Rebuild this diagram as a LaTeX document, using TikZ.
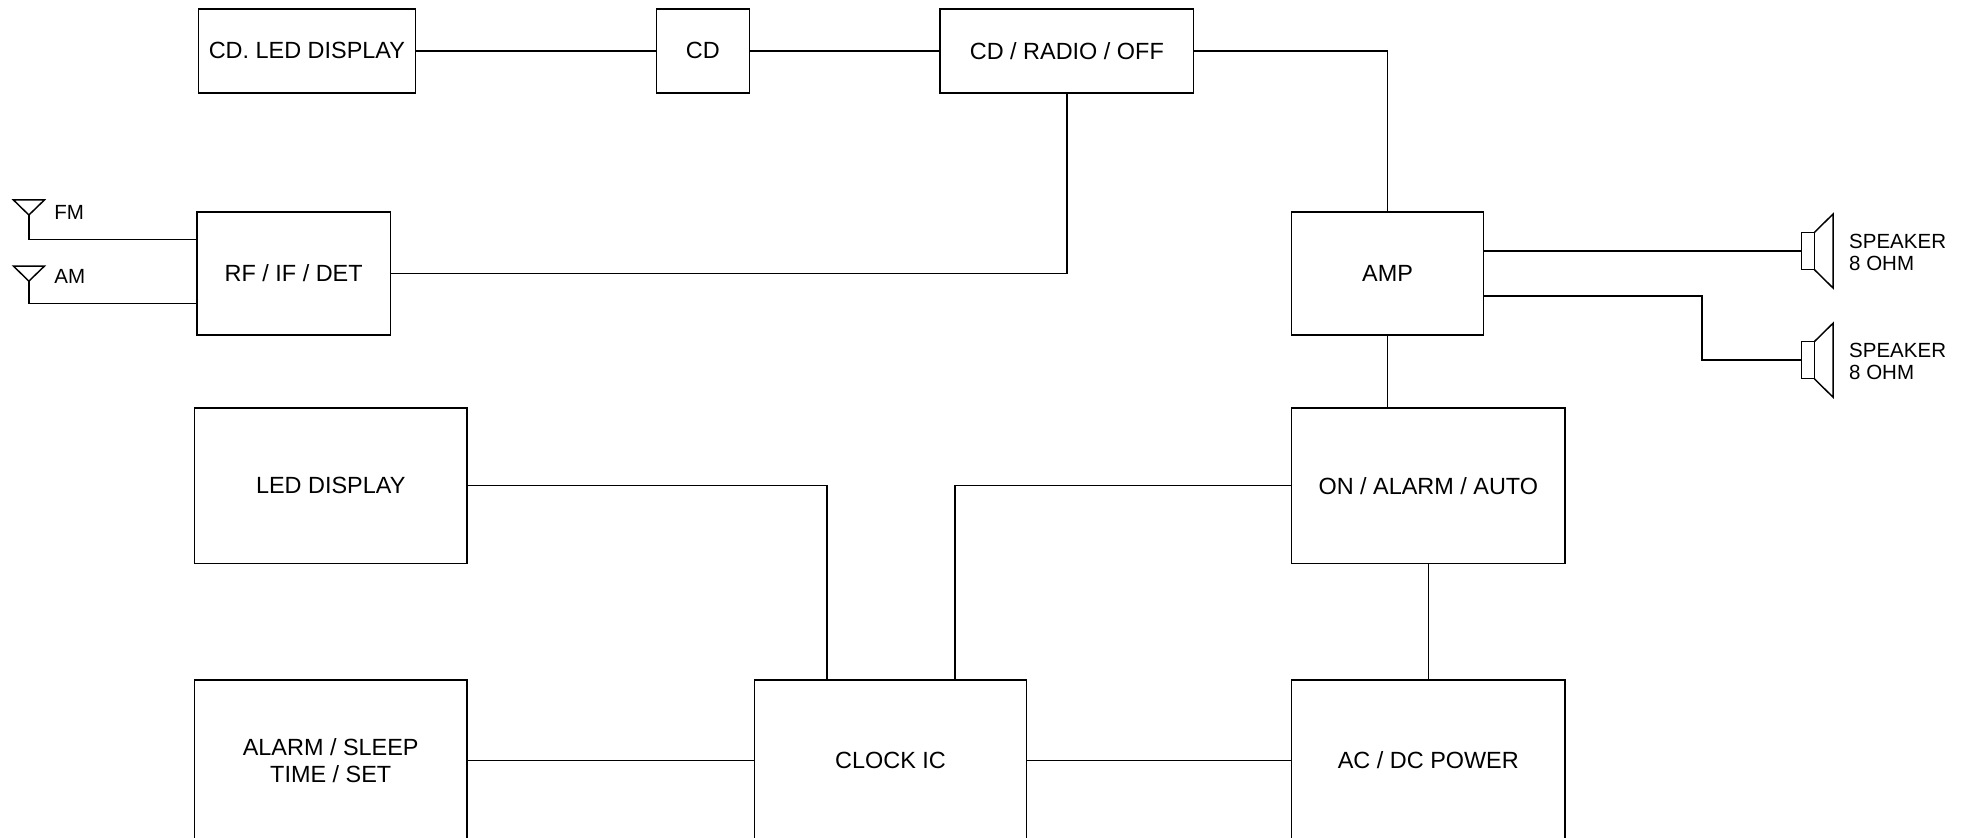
\documentclass[tikz,border=0pt]{standalone}
\usepackage{fontspec}
\setmainfont{Liberation Sans}
\usepackage{tikz}
\usetikzlibrary{calc}
\tikzset{
	blk/.style={draw, line width=0.75pt, inner sep=0pt, align=center, font=\fontsize{11.2}{12.6}\selectfont},
	wire/.style={line width=0.7pt},
	spklabel/.style={anchor=west, align=left, inner sep=0pt, font=\fontsize{9.8}{10.8}\selectfont}
}
\def\antenna(#1){\draw[wire] (#1) -- ++(-12.3,-12) -- ++(24.7,0) -- cycle;}
\def\speaker(#1){\draw[wire] ($(#1)+(0,-14.75)$) rectangle ++(10,29.5);
	\draw[wire] ($(#1)+(10,-14.75)$) -- ++(15,-14.75) -- ++(0,59) -- ++(-15,-14.75);}

\begin{document}
\begin{tikzpicture}[x=0.6pt, y=-0.6pt]
		%%%%% START %%%%%
		\useasboundingbox (0,0) rectangle (1568,667);
		
		\node[blk, minimum width=103.8pt, minimum height=40.2pt] (cdled) at (244.5, 40.5) {CD. LED DISPLAY};
		\node[blk, minimum width=44.4pt, minimum height=40.2pt] (cd) at (560, 40.5) {CD};
		\node[blk, minimum width=121.2pt, minimum height=40.2pt] (cdsel) at (850, 40.5) {CD / RADIO / OFF};
		
		\node[blk, minimum width=92.4pt, minimum height=58.8pt] (rf) at (234, 218) {RF / IF / DET};
		\node[blk, minimum width=91.8pt, minimum height=58.8pt] (amp) at (1105.5, 218) {AMP};
		
		\node[blk, minimum width=130.2pt, minimum height=74.4pt] (leddisp) at (263.5, 387) {LED DISPLAY};
		\node[blk, minimum width=130.8pt, minimum height=74.4pt] (onalarm) at (1138, 387) {ON / ALARM / AUTO};
		
		\node[blk, minimum width=130.2pt, minimum height=76.8pt] (alarmset) at (263.5, 606) {ALARM / SLEEP\\TIME / SET};
		\node[blk, minimum width=130.2pt, minimum height=76.8pt] (clock) at (709.5, 606) {CLOCK IC};
		\node[blk, minimum width=130.8pt, minimum height=76.8pt] (acdc) at (1138, 606) {AC / DC POWER};
		
		% antennas
		\coordinate (fm) at (23, 171.3);
		\coordinate (am) at (23, 224);
		\antenna(fm)
		\antenna(am)
		\node[anchor=west, inner sep=0pt, font=\fontsize{9.8}{10.8}\selectfont] (fmlbl) at (43, 169) {FM};
		\node[anchor=west, inner sep=0pt, font=\fontsize{9.8}{10.8}\selectfont] (amlbl) at (43, 220) {AM};
		\draw[wire] (fm) |- (rf.west |- 0,191);
		\draw[wire] (am) |- (rf.west |- 0,242);
		
		% speakers
		\coordinate (spka) at (1435.5, 200);
		\coordinate (spkb) at (1435.5, 287);
		\speaker(spka)
		\speaker(spkb)
		\node[spklabel] (spkalbl) at (1473, 201) {SPEAKER\\8 OHM};
		\node[spklabel] (spkblbl) at (1473, 288) {SPEAKER\\8 OHM};
		
		\draw[wire] (cdled) -- (cd);
		\draw[wire] (cd) -- (cdsel);
		\draw[wire] (cdsel.east) -| (amp.north);
		\draw[wire] (cdsel.south) |- (rf.east);
		\draw[wire] (amp.east |- spka) -- (spka);
		\draw[wire] (amp.east |- 0,236) -| (1356,0 |- spkb) -- (spkb);
		\draw[wire] (amp.south) -- (amp.south |- onalarm.north);
		
		\draw[wire] (leddisp.east) -| (659,0 |- clock.north);
		\draw[wire] (onalarm.west) -| (761,0 |- clock.north);
		\draw[wire] (onalarm) -- (acdc);
		\draw[wire] (alarmset) -- (clock);
		\draw[wire] (clock) -- (acdc);
		
		%%%%% END %%%%%
	\end{tikzpicture}
\end{document}
